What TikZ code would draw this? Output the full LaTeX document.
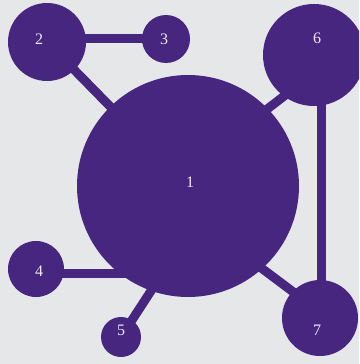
\documentclass[tikz,border=0pt]{standalone}
\usepackage{fontspec}
\setmainfont{Liberation Serif}
\definecolor{bgc}{HTML}{E6E7E9}
\definecolor{pur}{HTML}{472680}
\definecolor{txt}{HTML}{EEEAF4}
\pgfdeclarelayer{back}
\pgfsetlayers{back,main}
\tikzset{
  dot/.style={circle, fill=pur, inner sep=0pt, outer sep=0pt},
  lab/.style={text=txt, inner sep=0pt, font=\fontsize{16}{16}\selectfont},
  conn/.style={draw=pur, line width=9pt}
}
\begin{document}
\begin{tikzpicture}[x=1pt,y=-1pt]
\useasboundingbox (0,0) rectangle (359,364);
\clip (0,0) rectangle (359,364);
% circles
\node[dot, minimum size=222pt] (n1) at (188,186) {};
\node[dot, minimum size=78pt] (n2) at (47,42) {};
\node[dot, minimum size=48pt] (n3) at (166,39) {};
\node[dot, minimum size=56pt] (n4) at (36,269) {};
\node[dot, minimum size=40pt] (n5) at (121,337) {};
\node[dot, minimum size=102pt] (n6) at (314,55) {};
\node[dot, minimum size=76pt] (n7) at (320,318) {};
% labels
\node[lab] (l1) at (190,182) {1};
\node[lab] (l2) at (39,39) {2};
\node[lab] (l3) at (164,39) {3};
\node[lab] (l4) at (39,271) {4};
\node[lab] (l5) at (121,330) {5};
\node[lab] (l6) at (317,38) {6};
\node[lab] (l7) at (317,330) {7};
% connector end points
\coordinate (e2a) at (47,38);
\coordinate (e3a) at (166,38);
\coordinate (e4a) at (36,273.5);
\coordinate (e4b) at (150,273.5);
\coordinate (e5b) at (162,274);
\coordinate (e6a) at (305,80);
\coordinate (e6b) at (240,130);
\coordinate (e7a) at (320,312);
\coordinate (e7b) at (240,252);
\coordinate (e67a) at (321,55);
\coordinate (e67b) at (321,318);
\begin{pgfonlayer}{back}
\fill[bgc] (0,0) rectangle (359,364);
\path[conn] (n2.center) -- (n1.center);
\path[conn] (e2a) -- (e3a);
\path[conn] (e4a) -- (e4b);
\path[conn] (n5.center) -- (e5b);
\path[conn] (e6a) -- (e6b);
\path[conn] (e7a) -- (e7b);
\path[conn] (e67a) -- (e67b);
\end{pgfonlayer}
\end{tikzpicture}
\end{document}
